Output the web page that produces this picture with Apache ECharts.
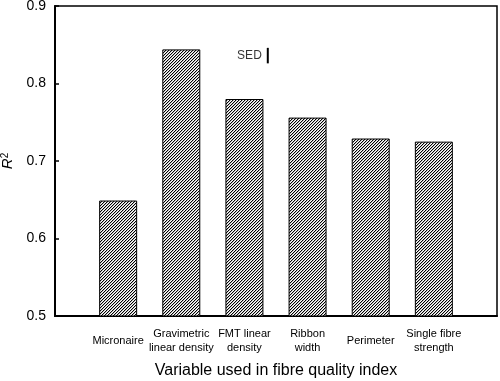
<!DOCTYPE html>
<html>
<head>
<meta charset="utf-8">
<script src="https://cdn.jsdelivr.net/npm/echarts@6/dist/echarts.min.js"></script>
<style>
  html, body { margin: 0; padding: 0; background: #fff; }
  #main { width: 500px; height: 381px; }
</style>
</head>
<body>
<div id="main"></div>
<script>
// data
var categories = ['Micronaire', 'Gravimetric\nlinear density', 'FMT linear\ndensity', 'Ribbon\nwidth', 'Perimeter', 'Single fibre\nstrength'];
var r2Values = [0.649, 0.844, 0.780, 0.756, 0.729, 0.725];
var yTicks = [0.5, 0.6, 0.7, 0.8, 0.9];
// SED bar: position on x scale, centre value and length
var sedX = 3.37;
var sedMid = 0.836;
var sedLen = 0.02;

// hatch pattern "////"
function makeHatch() {
  var n = 3;
  var c = document.createElement('canvas');
  c.width = n;
  c.height = n;
  var ctx = c.getContext('2d');
  ctx.fillStyle = '#fff';
  ctx.fillRect(0, 0, n, n);
  for (var i = 0; i < n; i++) {
    ctx.fillStyle = '#000';
    ctx.fillRect(i, n - 1 - i, 1, 1);
    ctx.fillStyle = '#bbb';
    ctx.fillRect((i + 1) % n, n - 1 - i, 1, 1);
  }
  return c;
}

var chart = echarts.init(document.getElementById('main'), null, { renderer: 'canvas' });

var barData = r2Values.map(function (v, i) { return [i + 1, v]; });

var option = {
  animation: false,
  textStyle: { fontFamily: 'Liberation Sans, Arial, sans-serif', color: '#000' },
  grid: {
    left: 55, right: 3, top: 6, bottom: 65,
    outerBoundsMode: 'none',
    show: true, borderColor: '#000', borderWidth: 1.5
  },
  xAxis: {
    type: 'value',
    min: 0,
    max: 7,
    interval: 1,
    name: 'Variable used in fibre quality index',
    nameLocation: 'middle',
    nameGap: 47,
    nameTextStyle: { fontSize: 16, color: '#000' },
    axisLine: { lineStyle: { color: '#000', width: 2 } },
    axisTick: { show: false },
    splitLine: { show: false },
    axisLabel: {
      fontSize: 11,
      lineHeight: 14,
      color: '#000',
      margin: 25,
      verticalAlign: 'middle',
      formatter: function (v) { return categories[v - 1] || ''; }
    }
  },
  yAxis: {
    type: 'value',
    min: yTicks[0],
    max: yTicks[yTicks.length - 1],
    interval: 0.1,
    name: '{i|R}{s|2}',
    nameLocation: 'middle',
    nameGap: 34,
    nameRotate: 90,
    nameTextStyle: {
      rich: {
        i: { fontSize: 15, fontStyle: 'italic', color: '#000' },
        s: { fontSize: 10, color: '#000', verticalAlign: 'top', padding: [0, 0, 6, 0] }
      }
    },
    axisLine: { lineStyle: { color: '#000', width: 2 } },
    axisTick: { inside: true, length: 4, lineStyle: { color: '#000', width: 1.5 } },
    splitLine: { show: false },
    axisLabel: {
      fontSize: 14,
      color: '#000',
      margin: 9,
      formatter: function (v) { return v.toFixed(1); }
    }
  },
  series: [
    {
      type: 'bar',
      data: barData,
      barWidth: 38,
      itemStyle: {
        color: { image: makeHatch(), repeat: 'repeat' },
        borderColor: '#000',
        borderWidth: 1
      }
    },
    {
      type: 'line',
      data: [[sedX, sedMid - sedLen / 2], [sedX, sedMid + sedLen / 2]],
      symbol: 'none',
      lineStyle: { color: '#000', width: 2 }
    },
    {
      type: 'scatter',
      data: [[sedX, sedMid]],
      symbolSize: 0,
      label: {
        show: true,
        position: 'left',
        distance: 6,
        formatter: 'SED',
        fontSize: 12,
        color: '#000'
      }
    }
  ]
};

chart.setOption(option);
</script>
</body>
</html>
